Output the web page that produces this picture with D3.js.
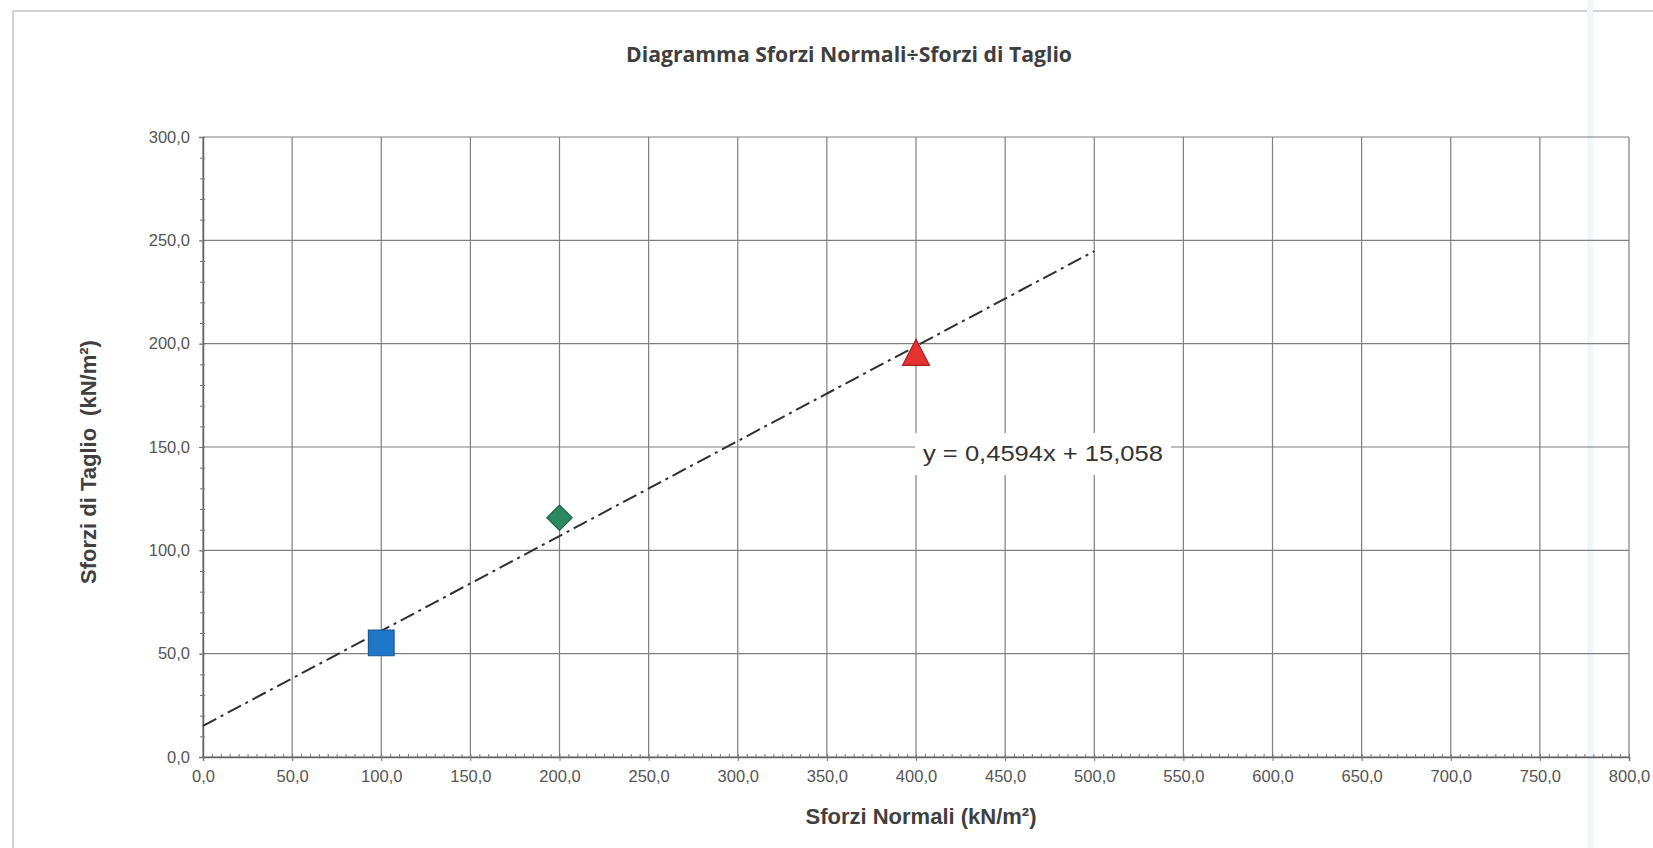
<!DOCTYPE html>
<html lang="it">

<head>
  <meta charset="UTF-8">
  <title>Diagramma Sforzi Normali÷Sforzi di Taglio</title>
  <style>
    body { margin: 0; background: #fff; }
    svg { display: block; font-family: Arial, "Liberation Sans", sans-serif; }
  </style>
</head>

<body>
  <svg id="svg" width="1653" height="848"></svg>

  <script src="https://d3js.org/d3.v7.min.js"></script>
  <script>

    // values
    const sforziNormali = [100, 200, 400]
    const sforziTaglio = [55.2, 115.8, 195.8]
    const markerShapes = ['square', 'diamond', 'triangle']
    const markerFills = ['#1f77c8', '#2c8a62', '#e5322e']
    const markerStrokes = ['#175c9c', '#1d6446', '#a32222']

    // trendline as printed on the chart
    const trendSlope = 0.4594
    const trendIntercept = 15.058
    const trendFrom = 0
    const trendTo = 500
    const trendLabel = 'y = 0,4594x + 15,058'

    const xTickValues = [0, 50, 100, 150, 200, 250, 300, 350, 400, 450, 500, 550, 600, 650, 700, 750, 800]
    const yTickValues = [0, 50, 100, 150, 200, 250, 300]

    const svg = d3.select('#svg')
    const plotLeft = 203, plotRight = 1629, plotTop = 137, plotBottom = 757

    const xScale = d3.scaleLinear().domain([0, 800]).range([plotLeft, plotRight])
    const yScale = d3.scaleLinear().domain([0, 300]).range([plotBottom, plotTop])
    const fmt = d => d.toFixed(1).replace('.', ',')

    // frame of the chart area (scan edges)
    svg.append('line').attr('x1', 13).attr('x2', 1653).attr('y1', 11).attr('y2', 11)
      .attr('stroke', '#c4c4c4').attr('stroke-width', 1.5)
    svg.append('line').attr('x1', 13).attr('x2', 13).attr('y1', 11).attr('y2', 848)
      .attr('stroke', '#c4c4c4').attr('stroke-width', 1.5)
    svg.append('rect').attr('x', 1587).attr('y', 0).attr('width', 6).attr('height', 848)
      .attr('fill', '#f1f6fb')

    svg.append('text')
      .attr('x', 849).attr('y', 62)
      .attr('text-anchor', 'middle')
      .attr('font-family', '"Open Sans", sans-serif')
      .attr('font-weight', 'bold')
      .attr('font-size', 22)
      .attr('textLength', 446)
      .attr('lengthAdjust', 'spacingAndGlyphs')
      .attr('fill', '#3f3f3f')
      .text('Diagramma Sforzi Normali÷Sforzi di Taglio')

    // grid
    svg.append('g')
      .selectAll('line')
      .data(xTickValues)
      .enter()
      .append('line')
      .attr('x1', d => xScale(d)).attr('x2', d => xScale(d))
      .attr('y1', plotTop).attr('y2', plotBottom)
      .attr('stroke', '#7f7f7f').attr('stroke-width', 1.2)

    svg.append('g')
      .selectAll('line')
      .data(yTickValues)
      .enter()
      .append('line')
      .attr('x1', plotLeft).attr('x2', plotRight)
      .attr('y1', d => yScale(d)).attr('y2', d => yScale(d))
      .attr('stroke', '#7f7f7f').attr('stroke-width', 1.2)

    // x axis
    const xAxis = svg.append('g')
      .attr('transform', `translate(0,${plotBottom})`)
      .call(d3.axisBottom(xScale).tickValues(xTickValues).tickFormat(fmt).tickSize(4).tickPadding(9))
    xAxis.append('g')
      .call(d3.axisTop(xScale).tickValues(d3.range(0, 801, 5)).tickFormat('').tickSize(3))
      .select('.domain').remove()

    // y axis
    const yAxis = svg.append('g')
      .attr('transform', `translate(${plotLeft},0)`)
      .call(d3.axisLeft(yScale).tickValues(yTickValues).tickFormat(fmt).tickSize(4).tickPadding(9))
    yAxis.append('g')
      .attr('transform', 'translate(2,0)')
      .call(d3.axisLeft(yScale).tickValues(d3.range(0, 301, 10)).tickFormat('').tickSize(5))
      .select('.domain').remove()

    svg.selectAll('.domain').attr('stroke', '#666').attr('stroke-width', 1.5)
    svg.selectAll('.tick line').attr('stroke', '#777')
    svg.selectAll('.tick text')
      .attr('font-family', 'Arial, "Liberation Sans", sans-serif')
      .attr('font-size', 16.5)
      .attr('fill', '#555')

    // axis titles
    svg.append('text')
      .attr('x', 921).attr('y', 824)
      .attr('text-anchor', 'middle')
      .attr('font-weight', 'bold')
      .attr('font-size', 22)
      .attr('fill', '#404040')
      .text('Sforzi Normali (kN/m²)')

    const yTitle = svg.append('text')
      .attr('transform', 'translate(96,462) rotate(-90)')
      .attr('text-anchor', 'middle')
      .attr('font-weight', 'bold')
      .attr('font-size', 22)
      .attr('fill', '#404040')
    yTitle.append('tspan').text('Sforzi di Taglio')
    yTitle.append('tspan').attr('dx', 12).text('(kN/m²)')

    // trendline
    svg.append('line')
      .attr('x1', xScale(trendFrom))
      .attr('y1', yScale(trendSlope * trendFrom + trendIntercept))
      .attr('x2', xScale(trendTo))
      .attr('y2', yScale(trendSlope * trendTo + trendIntercept))
      .attr('stroke', '#2f2f2f')
      .attr('stroke-width', 2)
      .attr('stroke-dasharray', '15,5,3,5')

    // equation label with white box
    const eq = svg.append('g').attr('transform', 'translate(1043,454)')
    eq.append('rect')
      .attr('x', -128).attr('y', -21).attr('width', 256).attr('height', 42)
      .attr('fill', '#fff')
    eq.append('text')
      .attr('y', 7)
      .attr('text-anchor', 'middle')
      .attr('font-size', 22)
      .attr('textLength', 240)
      .attr('lengthAdjust', 'spacingAndGlyphs')
      .attr('fill', '#333')
      .text(trendLabel)

    // markers
    function markerPath(shape) {
      if (shape === 'square') return d3.symbol(d3.symbolSquare, 660)()
      if (shape === 'diamond') return d3.symbol(d3.symbolSquare, 320)()
      const w = 27, h = 26
      return `M0,${-h / 2}L${w / 2},${h / 2}L${-w / 2},${h / 2}Z`
    }

    const points = sforziNormali.map((x, i) => ({
      x: x, y: sforziTaglio[i], shape: markerShapes[i], fill: markerFills[i], stroke: markerStrokes[i]
    }))

    svg.append('g')
      .selectAll('path')
      .data(points)
      .enter()
      .append('path')
      .attr('d', d => markerPath(d.shape))
      .attr('transform', d => `translate(${xScale(d.x)},${yScale(d.y)})` + (d.shape === 'diamond' ? ' rotate(45)' : ''))
      .attr('fill', d => d.fill)
      .attr('stroke', d => d.stroke)
      .attr('stroke-width', 1.2)

  </script>
</body>

</html>
